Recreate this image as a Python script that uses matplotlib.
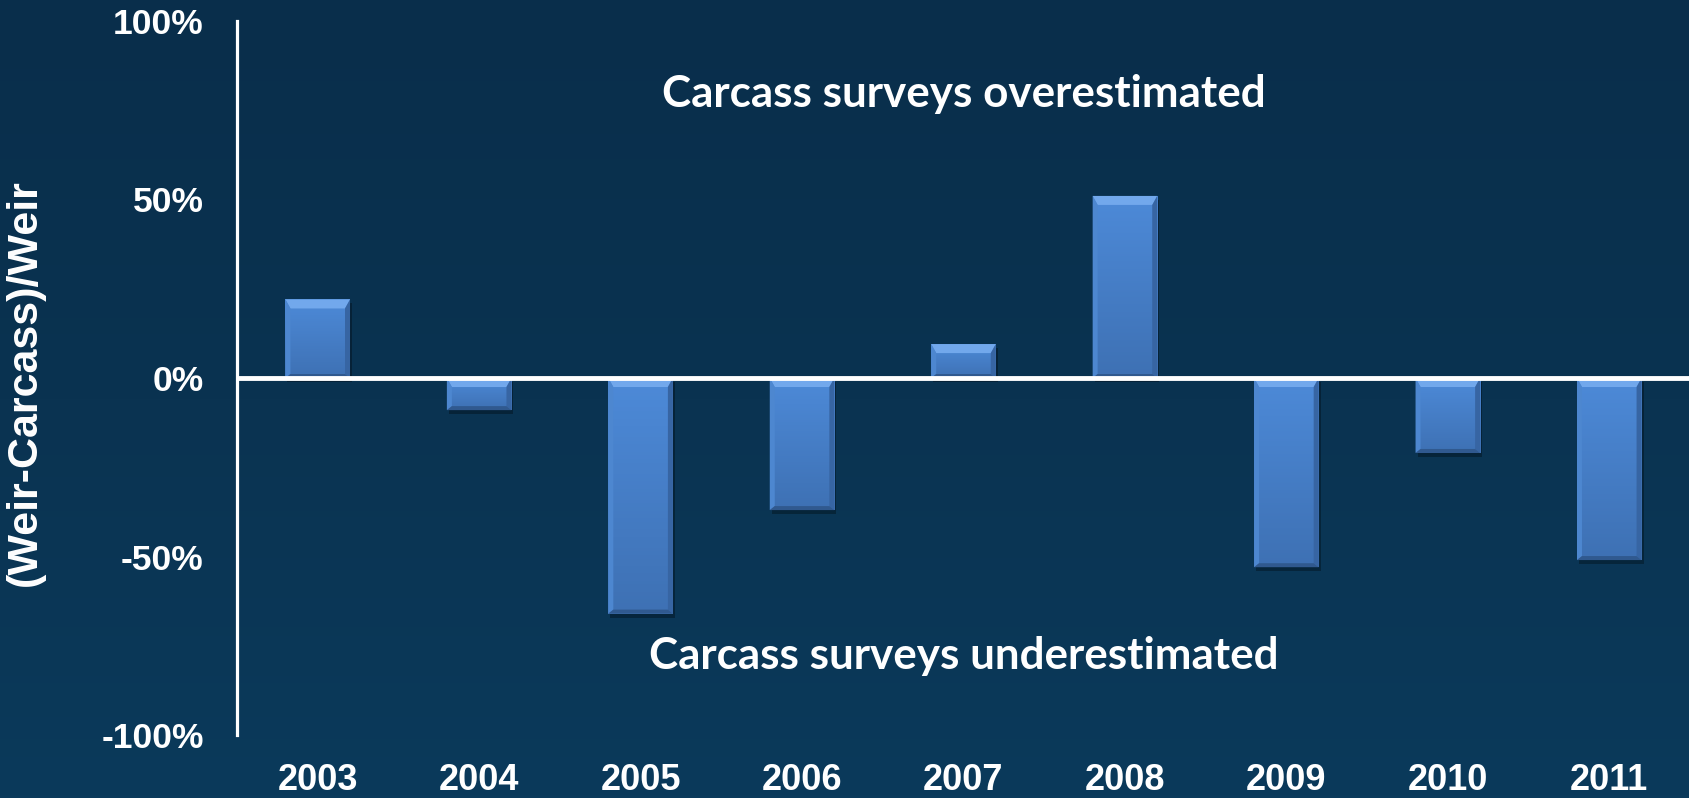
import matplotlib.pyplot as plt
from matplotlib.colors import LinearSegmentedColormap
from matplotlib.patches import Rectangle, Polygon
import numpy as np

# Relative difference between weir counts and carcass survey estimates
years = ["2003", "2004", "2005", "2006", "2007", "2008", "2009", "2010", "2011"]
pct_diff = [22, -9, -66, -37, 9.5, 51, -53, -21, -51]
y_ticks = [-100, -50, 0, 50, 100]

W, H, DPI = 1690, 798, 100
AX_RECT = [237 / W, 63 / H, (W - 237) / W, 714 / H]

fig = plt.figure(figsize=(W / DPI, H / DPI), dpi=DPI)

# dark sea-blue backdrop
bg = fig.add_axes([0, 0, 1, 1], zorder=-10)
sea = LinearSegmentedColormap.from_list("sea", ["#092e4b", "#0a3351", "#0b3a5b"])
bg.imshow(np.linspace(0, 1, 256).reshape(-1, 1), aspect="auto", cmap=sea,
          extent=[0, 1, 0, 1], origin="upper")
bg.axis("off")

ax = fig.add_axes(AX_RECT)
ax.patch.set_alpha(0)
x = np.arange(len(years))
bar_w = 0.4
bars = ax.bar(x, pct_diff, width=bar_w, color="#4680cb", zorder=3)

ax.set_xlim(-0.5, len(years) - 0.5)
ax.set_ylim(-100, 100)

# pixel -> data conversion for the bevel edges
px_x = len(years) / (AX_RECT[2] * W)
px_y = 200 / (AX_RECT[3] * H)

face = LinearSegmentedColormap.from_list("face", ["#4d8ad8", "#3e71b4"])
grad = np.linspace(0, 1, 64).reshape(-1, 1)
for b in bars:
    x0, x1 = b.get_x(), b.get_x() + b.get_width()
    top = max(b.get_y(), b.get_y() + b.get_height())
    bot = min(b.get_y(), b.get_y() + b.get_height())
    # soft drop shadow
    ax.add_patch(Rectangle((x0 + 2 * px_x, bot - 4 * px_y), x1 - x0, top - bot,
                           color="black", alpha=0.3, lw=0, zorder=2))
    im = ax.imshow(grad, aspect="auto", cmap=face, extent=[x0, x1, bot, top],
                   origin="upper", zorder=3)
    im.set_clip_path(b)
    s, t, bb = 5 * px_x, 9 * px_y, 4 * px_y
    ax.add_patch(Polygon([(x0, top), (x1, top), (x1 - s, top - t), (x0 + s, top - t)],
                         closed=True, color="#72a8ec", lw=0, zorder=4))
    ax.add_patch(Polygon([(x0, top), (x0 + s, top - t), (x0 + s, bot + bb), (x0, bot)],
                         closed=True, color="#4d87d0", lw=0, zorder=4))
    ax.add_patch(Polygon([(x1, top), (x1 - s, top - t), (x1 - s, bot + bb), (x1, bot)],
                         closed=True, color="#3765a3", lw=0, zorder=4))
    ax.add_patch(Polygon([(x0, bot), (x1, bot), (x1 - s, bot + bb), (x0 + s, bot + bb)],
                         closed=True, color="#30598f", lw=0, zorder=4))

ax.axhline(0, color="white", lw=3.5, zorder=5)

for side in ["top", "right", "bottom"]:
    ax.spines[side].set_visible(False)
ax.spines["left"].set_color("white")
ax.spines["left"].set_linewidth(2.3)

ax.set_yticks(y_ticks)
ax.set_yticklabels([f"{v}%" for v in y_ticks])
ax.set_xticks(x)
ax.set_xticklabels(years)
ax.tick_params(axis="y", length=0, pad=24, labelsize=25.5, labelcolor="white")
ax.tick_params(axis="x", length=0, pad=20, labelsize=26, labelcolor="white")
for lbl in ax.get_xticklabels() + ax.get_yticklabels():
    lbl.set_fontfamily("Liberation Sans")
    lbl.set_fontweight("bold")

fig.text(25 / W, 1 - 383 / H, "(Weir-Carcass)/Weir", rotation=90, ha="center",
         va="center", color="white", fontsize=31, fontweight="bold",
         family="Liberation Sans")

ax.text(4, 79.5, "Carcass surveys overestimated", ha="center", va="center",
        color="white", fontsize=31.7, fontweight="bold", family="Lato")
ax.text(4, -78, "Carcass surveys underestimated", ha="center", va="center",
        color="white", fontsize=31.7, fontweight="bold", family="Lato")

fig.savefig("out.png", dpi=DPI, facecolor="#0a3351")
